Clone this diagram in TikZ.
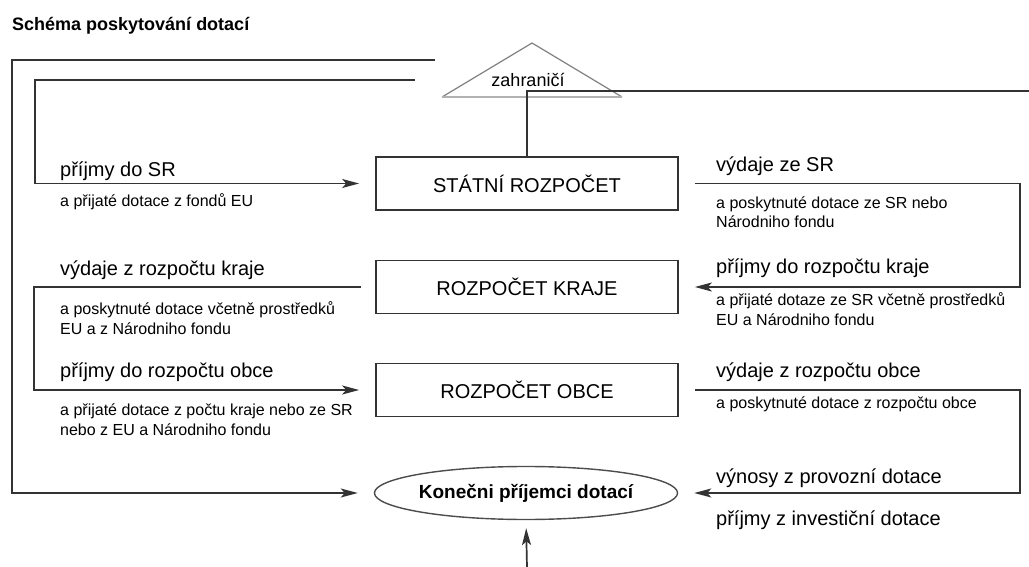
\documentclass[tikz,border=0pt]{standalone}
\usepackage{fontspec}
\setmainfont{Liberation Sans}
\usetikzlibrary{shapes,arrows.meta,calc,positioning}

\begin{document}
\begin{tikzpicture}[x=1pt,y=-1pt,
    every node/.append style={font=\fontsize{20}{22}\selectfont, inner sep=0pt},
    box/.style={draw=black!80, line width=1.7pt, minimum width=302pt, minimum height=53pt},
    lbl/.style={anchor=base west},
    note/.style={anchor=base west, align=left, font=\fontsize{16}{20}\selectfont},
    flow/.style={draw=black!80, line width=1.7pt},
    arr/.style={flow, -{Stealth[length=17pt,width=9pt,inset=4pt]}}]
    \useasboundingbox (0,0) rectangle (1029,567);

    \node[lbl, font=\bfseries\fontsize{18}{20}\selectfont] (title) at (12,31) {Schéma poskytování dotací};

    \draw[draw=black!50, line width=1.2pt] (442,97) -- (532,43) -- (622,97);
    \draw[draw=black!30, line width=1.6pt] (442,97) -- (622,97);
    \node[font=\fontsize{18}{20}\selectfont] (zahr) at (528,80) {zahraničí};

    \node[box] (stat) at (527,183.5) {STÁTNÍ ROZPOČET};
    \node[box] (kraj) at (527,287) {ROZPOČET KRAJE};
    \node[box] (obce) at (527,390) {ROZPOČET OBCE};
    \node[ellipse, draw=black!70, line width=1.4pt, minimum width=300pt, minimum height=53pt,
          font=\bfseries\fontsize{19}{21}\selectfont] (kon) at (526,493) {Konečni příjemci dotací};

    \coordinate (out1) at (435,60);
    \coordinate (out2) at (415,80);
    \coordinate (east) at (1029,91);
    \coordinate (bot) at (527,567);

    \draw[arr, shorten >=16pt] (out1) -- (12,60) |- (kon.west);
    \draw[arr, shorten >=16pt] (out2) -- (35,80) |- (stat.west);
    \draw[flow] (stat.north) |- (east);
    \draw[arr, shorten <=16pt, shorten >=16pt] (stat.east) -- +(341,0) |- (kraj.east);
    \draw[arr, shorten <=14pt, shorten >=16pt] (kraj.west) -- +(-341,0) |- (obce.west);
    \draw[arr, shorten <=16pt, shorten >=16pt] (obce.east) -- +(341,0) |- (kon.east);
    \draw[arr, shorten >=8pt] (bot) -- (kon.south);

    \node[lbl] (inSR) at (60,177) {příjmy do SR};
    \node[note] (inSRn) at (60,207) {a přijaté dotace z fondů EU};
    \node[lbl] (outSR) at (716,172) {výdaje ze SR};
    \node[note] (outSRn) at (716,228) {a poskytnuté dotace ze SR nebo\\Národniho fondu};
    \node[lbl] (outKr) at (60,275) {výdaje z rozpočtu kraje};
    \node[note] (outKrn) at (60,334) {a poskytnuté dotace včetně prostředků\\EU a z Národniho fondu};
    \node[lbl] (inKr) at (716,273) {příjmy do rozpočtu kraje};
    \node[note] (inKrn) at (716,325) {a přijaté dotaze ze SR včetně prostředků\\EU a Národniho fondu};
    \node[lbl] (inOb) at (60,377) {příjmy do rozpočtu obce};
    \node[note] (inObn) at (60,435) {a přijaté dotace z počtu kraje nebo ze SR\\nebo z EU a Národniho fondu};
    \node[lbl] (outOb) at (716,377) {výdaje z rozpočtu obce};
    \node[note] (outObn) at (716,408) {a poskytnuté dotace z rozpočtu obce};
    \node[lbl] (vyn) at (716,483) {výnosy z provozní dotace};
    \node[lbl] (inv) at (716,525) {příjmy z investiční dotace};
\end{tikzpicture}
\end{document}
